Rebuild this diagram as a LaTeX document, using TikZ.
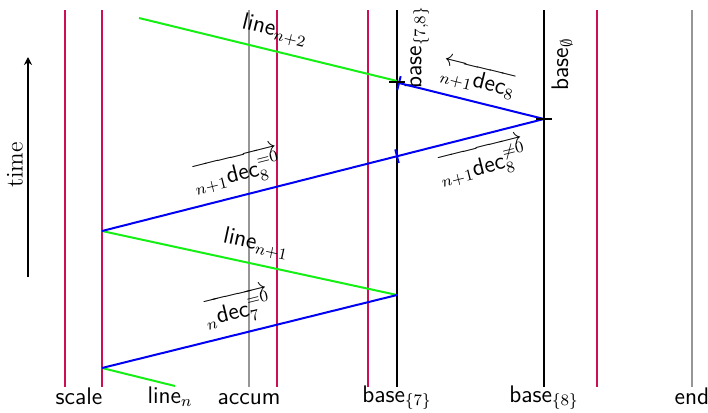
\documentclass[tikz,border=0pt]{standalone}
\usepackage{fontspec}
\usetikzlibrary{calc,arrows.meta}
\definecolor{crim}{RGB}{205,15,85}
\definecolor{grn}{RGB}{20,240,20}
\definecolor{blu}{RGB}{0,0,245}
\definecolor{gry}{RGB}{150,150,150}
\begin{document}
\begin{tikzpicture}[x=0.5pt,y=-0.5pt,font=\fontsize{12}{14}\selectfont,
  vline/.style={line width=1pt},
  redl/.style={vline,crim},
  grayl/.style={vline,gry},
  blackl/.style={vline,black},
  greenl/.style={line width=1pt,grn},
  bluel/.style={line width=1pt,blu},
  botlbl/.style={anchor=base,inner sep=0pt},
  rotlbl/.style={rotate=90,anchor=west,inner sep=0pt},
  slbl/.style={sloped,inner sep=4pt,text=black}]
\useasboundingbox (0,0) rectangle (708,413);
% vertical lines
\draw[redl]   (65,10)  coordinate (s1t) -- (65,387)  coordinate (s1b);
\draw[redl]   (102,10) coordinate (s2t) -- (102,387) coordinate (s2b);
\draw[grayl]  (249,10) coordinate (act) -- (249,387) coordinate (acb);
\draw[redl]   (277,10) coordinate (r3t) -- (277,387) coordinate (r3b);
\draw[redl]   (368,10) coordinate (r4t) -- (368,387) coordinate (r4b);
\draw[blackl] (397,10) coordinate (b7t) -- (397,387) coordinate (b7b);
\draw[blackl] (544,10) coordinate (b8t) -- (544,387) coordinate (b8b);
\draw[redl]   (597,10) coordinate (r5t) -- (597,387) coordinate (r5b);
\draw[grayl]  (692,10) coordinate (ent) -- (692,387) coordinate (enb);
% bottom labels
\node[botlbl] (lscale) at (79,404) {\textsf{scale}};
\node[botlbl] (laccum) at (249,404) {\textsf{accum}};
\node[botlbl] (lb7) at (397,402) {\textsf{base}$_{\{7\}}$};
\node[botlbl] (lb8) at (544,402) {\textsf{base}$_{\{8\}}$};
\node[botlbl] (lend) at (692,404) {\textsf{end}};
\node[botlbl] (lline) at (170,403) {\textsf{line}$_n$};
% rotated labels
\node[rotlbl] (lb78) at (417,89) {\textsf{base}$_{\{7,8\}}$};
\node[rotlbl] (lb0) at (562,91) {\textsf{base}$_{\emptyset}$};
% time
\coordinate (t0) at (28,277);
\coordinate (t1) at (28,57);
\draw[line width=0.8pt,-{Stealth[length=4pt,width=4pt]}] (t0) -- (t1);
\node[rotate=90] (ltime) at (15,165) {time};
% event points
\coordinate (A) at (102,368);
\coordinate (B) at (102,231);
\coordinate (C) at (397,295);
\coordinate (D) at (544,119);
\coordinate (E) at (399,83);
\coordinate (F) at (397,81);
\coordinate (G) at (139,18);
\coordinate (H) at (175,386);
\coordinate (M) at (397,156.2);
% green lines
\draw[greenl] (A) -- (H);
\draw[greenl] (B) -- node[slbl,above,pos=0.508] (ln1) {\textsf{line}$_{n+1}$} (C);
\draw[greenl] (G) -- node[slbl,above,pos=0.508] (ln2) {\textsf{line}$_{n+2}$} (F);
% blue lines
\draw[bluel] (A) -- node[slbl,above,pos=0.48] (d7) {$\overrightarrow{{}_{n}\textsf{dec}_7^{=0}}$} (C);
\draw[bluel] (B) -- node[slbl,above,pos=0.319] (d8a) {$\overrightarrow{{}_{n+1}\textsf{dec}_8^{=0}}$}
                    node[slbl,below,pos=0.846] (d8b) {$\overrightarrow{{}_{n+1}\textsf{dec}_8^{\neq0}}$} (D);
\draw[bluel] (D) -- (E);
\path (E) -- node[slbl,above,pos=0.51] (d8c) {$\overleftarrow{{}_{n+1}\textsf{dec}_8}$} (D);
% ticks
\draw[bluel] ($(E)!3.5pt!90:(D)$) -- ($(E)!3.5pt!-90:(D)$);
\draw[bluel] ($(M)!3.5pt!90:(D)$) -- ($(M)!3.5pt!-90:(D)$);
\draw[blackl] ($(F)+(-8,1)$) -- ($(F)+(8,1)$);
\draw[blackl] ($(D)+(-8,0)$) -- ($(D)+(8,0)$);
\end{tikzpicture}
\end{document}
